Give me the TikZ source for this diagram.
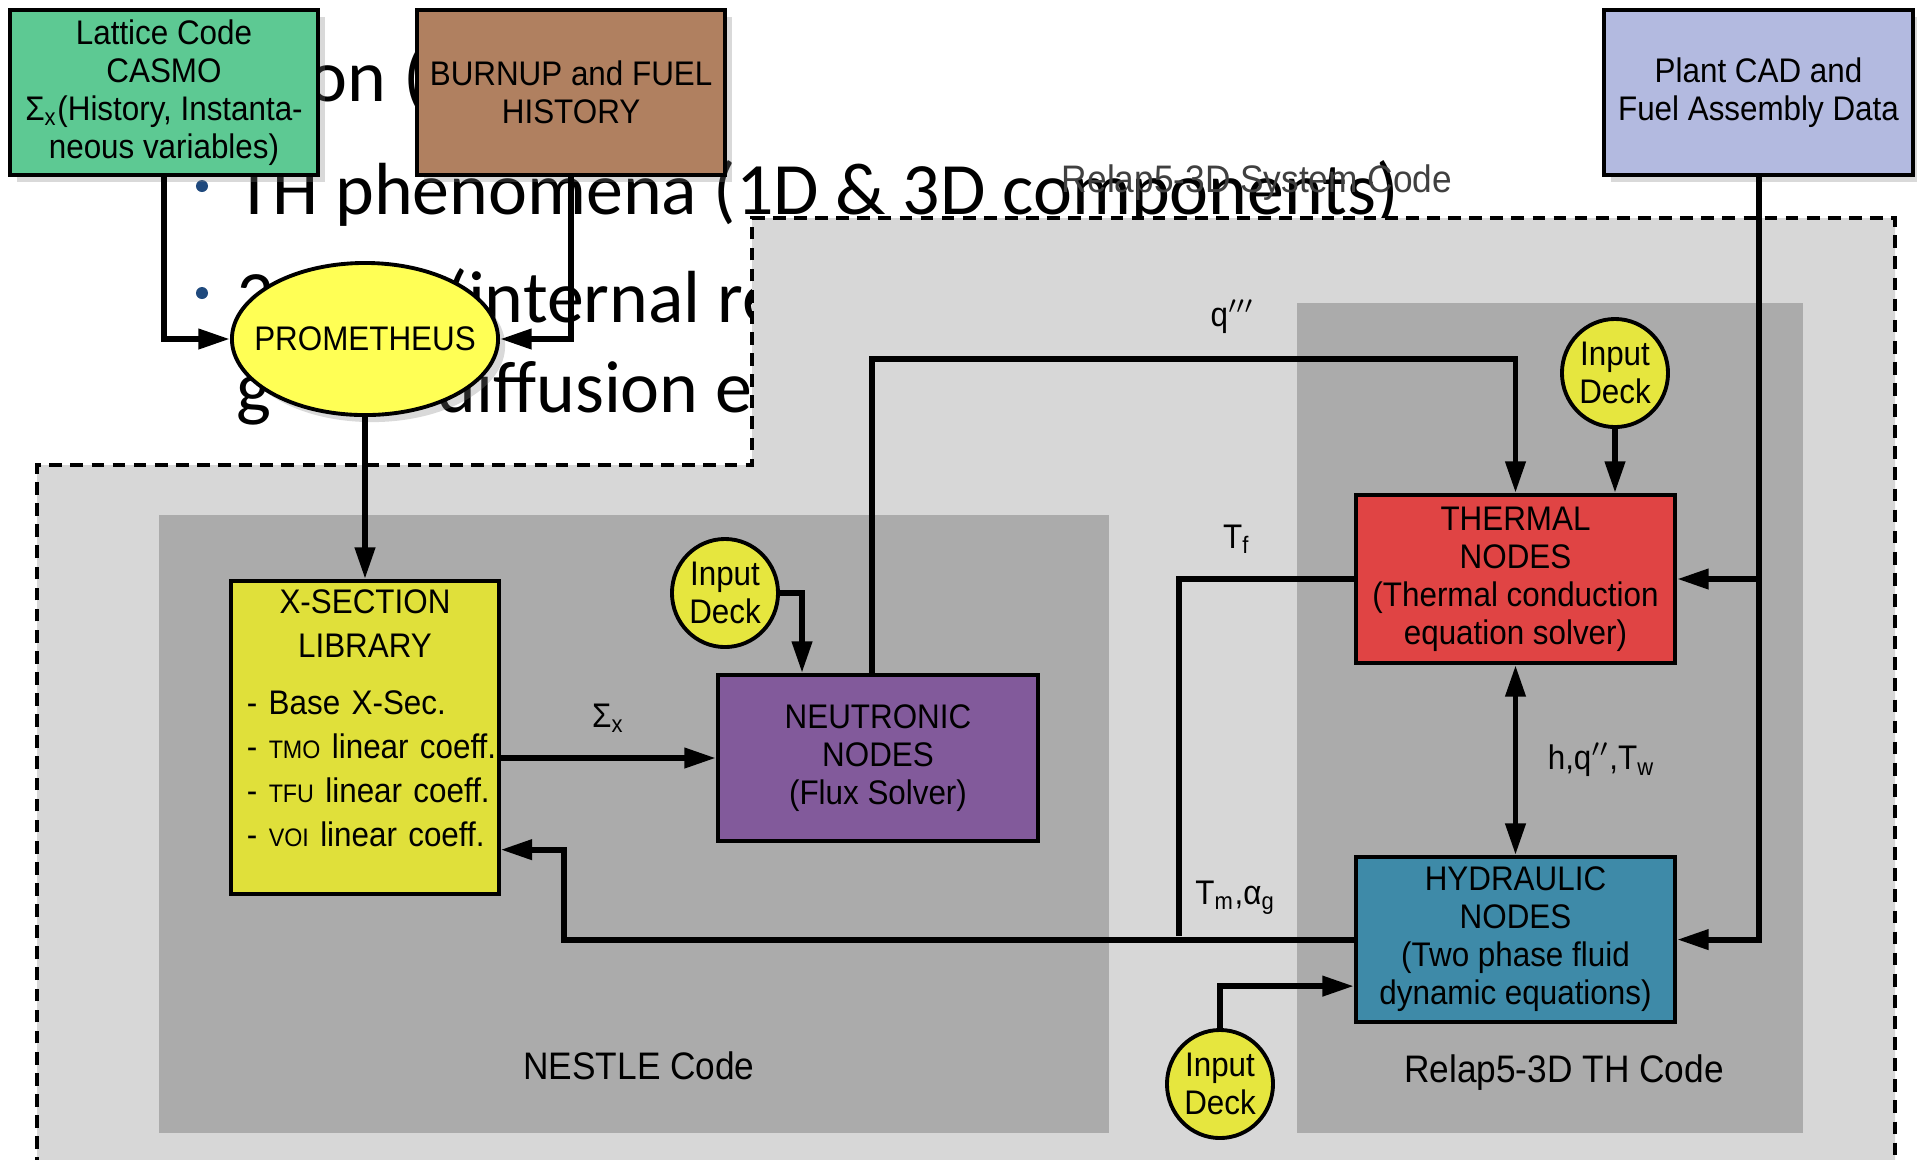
\documentclass[tikz,border=0pt]{standalone}
\usepackage{fontspec}
\setmainfont{Liberation Sans}[FakeStretch=0.92]
\newfontfamily\slidefont{Carlito}
\usetikzlibrary{arrows.meta, positioning, shapes.geometric, shadows}

\definecolor{latticegreen}{HTML}{5DC993}
\definecolor{burnupbrown}{HTML}{B08060}
\definecolor{plantblue}{HTML}{B3BAE0}
\definecolor{promyellow}{HTML}{FFFF55}
\definecolor{xsecyellow}{HTML}{E0E03A}
\definecolor{deckyellow}{HTML}{E6E63E}
\definecolor{neutpurple}{HTML}{825A9B}
\definecolor{thermred}{HTML}{E04444}
\definecolor{hydroteal}{HTML}{3E8AA8}
\definecolor{outergray}{HTML}{D7D7D7}
\definecolor{innergray}{HTML}{ABABAB}
\definecolor{bulletblue}{HTML}{1F497D}

\begin{document}
\begin{tikzpicture}[
  x=0.01cm, y=-0.01cm,
  font=\fontsize{9.7}{10.8}\selectfont,
  box/.style={draw, line width=1.1pt, align=center, inner sep=0pt},
  topbox/.style={box, minimum width=3.08cm, minimum height=1.65cm,
    drop shadow={opacity=0.3, shadow xshift=2pt, shadow yshift=-2pt}},
  nodebox/.style={box, minimum width=3.2cm, minimum height=1.66cm},
  core/.style={draw, ellipse, line width=1.1pt, fill=promyellow, minimum width=2.66cm,
    minimum height=1.52cm, inner xsep=-0.2cm, inner ysep=0pt,
    drop shadow={opacity=0.3, shadow xshift=2pt, shadow yshift=-2pt}},
  deck/.style={draw, ellipse, line width=1.1pt, fill=deckyellow, align=center,
    minimum width=1.06cm, minimum height=1.08cm, inner sep=0pt},
  arrow/.style={-{Triangle[length=9pt, width=5.5pt]}, line width=1.7pt},
  twoway/.style={{Triangle[length=9pt, width=5.5pt]}-{Triangle[length=9pt, width=5.5pt]}, line width=1.7pt},
  flow/.style={line width=1.7pt},
  regionlabel/.style={font=\fontsize{10.9}{13}\selectfont},
  slide/.style={anchor=base west, inner sep=0pt, font=\slidefont\fontsize{21}{25}\selectfont}
]
\useasboundingbox (0,0) rectangle (1917,1159);

% slide text behind the diagram
\node[slide] (line1) at (308,101) {on (};
\fill[bulletblue] (202,186) circle[radius=0.06cm];
\node[slide] (line2) at (236,214) {TH phenomena (1D \& 3D components)};
\fill[bulletblue] (202,293) circle[radius=0.06cm];
\node[slide] (line3a) at (236,322) {3};
\node[slide] (line3b) at (445,322) {(internal re};
\node[slide] (line4a) at (236,412) {g};
\node[slide] (line4b) at (437,412) {diffusion eq};

% code regions
\fill[outergray] (37,465) -- (752,465) -- (752,218) -- (1895,218) -- (1895,1170) -- (37,1170) -- cycle;
\draw[line width=0.9pt, dash pattern=on 3.6pt off 2.4pt] (37,1170) -- (37,465) -- (752,465) -- (752,218) -- (1895,218) -- (1895,1170);
\fill[innergray] (159,515) rectangle (1109,1133);
\fill[innergray] (1297,303) rectangle (1803,1133);
\node[regionlabel, text=black!75] (syslab) at (1257,183) {Relap5-3D System Code};
\node[regionlabel] (nestlelab) at (639,1066) {NESTLE Code};
\node[regionlabel] (thlab) at (1564,1073) {Relap5-3D TH Code};

% boxes
\node[topbox, fill=latticegreen] (lattice) at (164,92.5) {Lattice Code\\CASMO\\Σ\textsubscript{x}(History, Instanta-\\neous variables)};
\node[topbox, fill=burnupbrown, right=0.95cm of lattice] (burnup) {BURNUP and FUEL\\HISTORY};
\node[topbox, fill=plantblue] (plant) at (1758.5,92.5) {Plant CAD and\\Fuel Assembly Data};
\node[core] (prom) at (365,339) {PROMETHEUS};
\node[box, fill=xsecyellow, minimum width=2.67cm, minimum height=3.13cm, text width=2.36cm,
  align=left, font=\fontsize{9.7}{12.5}\selectfont, below=1.62cm of prom] (xsec)
  {{\centering X-SECTION\\LIBRARY\par}\vspace{3.7pt}
   \mbox{- Base X-Sec.}\\
   \mbox{- {\fontsize{7.2}{8}\selectfont TMO} linear coeff.}\\
   \mbox{- {\fontsize{7.2}{8}\selectfont TFU} linear coeff.}\\
   \mbox{- {\fontsize{7.2}{8}\selectfont VOI} linear coeff.}\rule[-11pt]{0pt}{11pt}};
\node[deck] (deckN) at (725,593) {Input\\Deck};
\node[nodebox, fill=neutpurple] (neut) at (878,758) {NEUTRONIC\\NODES\\(Flux Solver)};
\node[nodebox, fill=thermred, minimum width=3.19cm, minimum height=1.68cm] (therm) at (1515.5,579)
  {THERMAL\\NODES\\(Thermal conduction\\equation solver)};
\node[nodebox, fill=hydroteal, minimum width=3.19cm, minimum height=1.65cm, below=1.9cm of therm] (hyd)
  {HYDRAULIC\\NODES\\(Two phase fluid\\dynamic equations)};
\node[deck] (deckT) at (1615,373) {Input\\Deck};
\node[deck] (deckH) at (1220,1084) {Input\\Deck};

% inputs to PROMETHEUS
\draw[arrow] (lattice.south) |- (prom.west);
\draw[arrow] (burnup.south) |- (prom.east);
\draw[arrow] (prom.south) -- (xsec.north);
% NESTLE side
\draw[arrow] (xsec.east |- neut.west) -- node[above=3pt] (sigx) {Σ\textsubscript{x}} (neut.west);
\draw[arrow] (deckN.east) -| ([xshift=0.86cm]neut.north west);
\draw[arrow] ([xshift=1.56cm]neut.north west) -- ++(0,-314)
  -| node[pos=0.28, above=3pt] (qlab) {q$^{\prime\prime\prime}$} (therm.north);
% Relap5 side
\draw[arrow] (deckT.south) -- (deckT.south |- therm.north);
\draw[twoway] (therm.south) -- node[right=5pt] (hlab) {h,q$^{\prime\prime}$,T\textsubscript{w}} (hyd.north);
\draw[arrow] (plant.south) |- (hyd.east);
\draw[arrow] (plant.south |- therm.east) -- (therm.east);
\draw[arrow] (deckH.north) |- ([yshift=-0.465cm]hyd.west);
% feedback to the cross sections
\coordinate (tjoin) at (1179,935.5);
\draw[flow] (therm.west) -| node[pos=0.335, above=3pt] (tflab) {T\textsubscript{f}} (tjoin);
\draw[arrow] (hyd.west) -- node[pos=0.15, above=3pt] (tmlab) {T\textsubscript{m},α\textsubscript{g}} ++(-790,0)
  |- ([yshift=-1.12cm]xsec.east);
\end{tikzpicture}
\end{document}
